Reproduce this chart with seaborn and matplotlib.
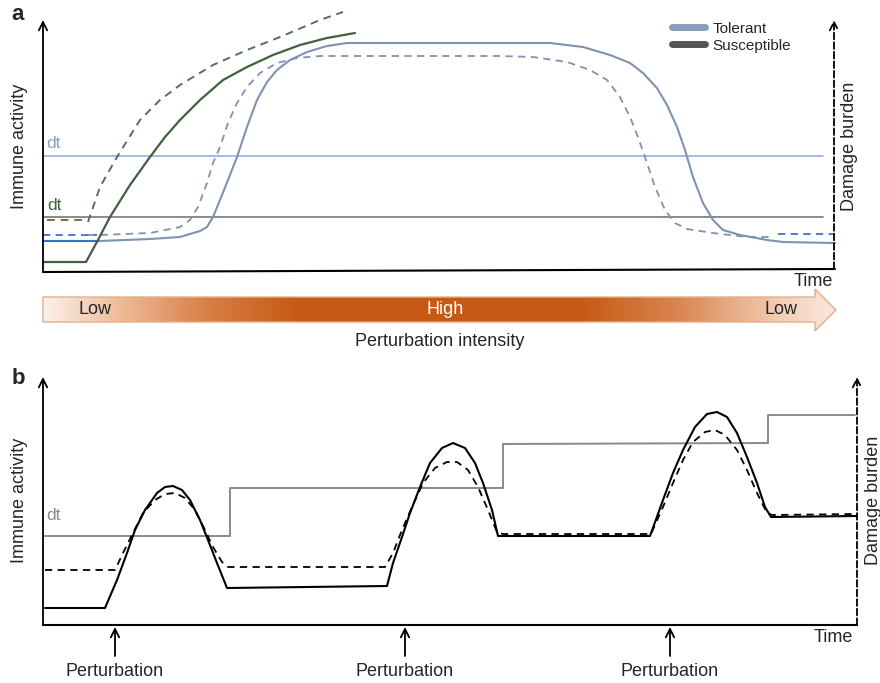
import numpy as np
import matplotlib
matplotlib.use('Agg')
import matplotlib.pyplot as plt
from matplotlib.colors import LinearSegmentedColormap
from matplotlib.lines import Line2D
from matplotlib.patches import Polygon
import seaborn as sns

# ---- panel a data (time, activity), pixel units ----
sus_solid_x = [43, 86, 98, 110, 130, 150, 165, 180, 200, 223, 247, 273, 300, 327, 355]
sus_solid_y = [262, 262, 240, 217, 185, 157, 137, 120, 100, 80, 67, 55, 45, 38, 33]
sus_dash_base_x = [47, 83]
sus_dash_base_y = [220, 220]
sus_dash_x = [88, 100, 117, 140, 160, 180, 213, 247, 280, 320, 343]
sus_dash_y = [222, 187, 157, 120, 100, 85, 65, 50, 37, 20, 12]

tol_solid_x = [43, 100, 150, 180, 200, 207, 213, 220, 228, 237, 247, 257, 267, 277, 290,
               307, 327, 347, 360, 500, 550, 583, 610, 630, 643, 657, 667, 677, 685,
               693, 703, 713, 723, 740, 767, 783, 835]
tol_solid_y = [241, 241, 239, 237, 231, 227, 217, 200, 180, 157, 127, 100, 82, 70, 60,
               52, 46, 43, 43, 43, 43, 47, 55, 63, 73, 88, 105, 127, 150,
               177, 203, 220, 230, 235, 240, 242, 243]
tol_solid_lead_x = [43, 97]
tol_solid_lead_y = [241, 241]
tol_dash_x = [88, 100, 150, 180, 190, 198, 207, 213, 220, 228, 237, 247, 260, 277, 297,
              320, 380, 500, 533, 567, 590, 607, 620, 630, 638, 647, 655, 665, 675,
              687, 713, 747, 773]
tol_dash_y = [235, 235, 233, 227, 220, 207, 183, 163, 147, 123, 103, 87, 73, 63, 58,
              56, 56, 56, 57, 62, 70, 80, 97, 117, 137, 163, 187, 210, 223,
              229, 233, 237, 237]
tol_dash_lead_x = [43, 97]
tol_dash_lead_y = [235, 235]
tol_dash_tail_x = [778, 835]
tol_dash_tail_y = [234, 234]

dt_tol_x, dt_tol_y = [44, 823], [156, 156]
dt_sus_x, dt_sus_y = [44, 823], [217, 217]

intensity_labels = ['Low', 'High', 'Low']
legend_labels = ['Tolerant', 'Susceptible']

# ---- panel b data ----
b_solid_x = [45, 105, 117, 127, 135, 145, 157, 165, 173, 182, 190, 200, 208, 217, 227,
             387, 393, 402, 410, 420, 430, 442, 453, 465, 475, 483, 492, 498,
             503, 650, 663, 673, 683, 695, 707, 717, 727, 737, 747, 757, 765, 771, 857]
b_solid_y = [608, 608, 580, 553, 530, 510, 493, 487, 486, 490, 500, 520, 540, 563, 588,
             586, 563, 537, 513, 487, 463, 448, 443, 448, 463, 483, 510, 536,
             536, 536, 500, 473, 450, 427, 414, 412, 417, 433, 457, 483, 507, 517, 516]
b_dash_x = [45, 115, 123, 133, 143, 155, 165, 175, 185, 195, 205, 213, 222, 228,
            385, 393, 402, 412, 423, 435, 447, 457, 468, 478, 488, 497,
            503, 651, 663, 673, 683, 693, 705, 715, 725, 737, 747, 757, 767, 772, 857]
b_dash_y = [570, 570, 553, 533, 513, 500, 494, 493, 498, 510, 530, 547, 562, 567,
            567, 553, 530, 507, 483, 468, 462, 462, 470, 487, 510, 532,
            534, 534, 507, 483, 460, 442, 432, 430, 435, 450, 470, 493, 513, 515, 514]
b_dt_x = [45, 230, 230, 503, 503, 768, 768, 855]
b_dt_y = [536, 536, 488, 488, 444, 443, 415, 415]
perturbation_x = [115, 405, 670]

sns.set_theme(style='white')
plt.rcParams['font.family'] = ['Liberation Sans', 'DejaVu Sans']

fig = plt.figure(figsize=(8.8, 6.83), dpi=100)
ax = fig.add_axes([0, 0, 1, 1])

GREEN = '#41603f'
GREEN_D = '#55705a'
TOL = '#7f92b3'
BLUE = '#3f6fcc'


def draw(x, y, color, lw=1.4, ls='-'):
    sns.lineplot(x=x, y=y, ax=ax, sort=False, estimator=None, color=color,
                 linewidth=lw, linestyle=ls)


def arrow(x0, y0, x1, y1, ls='-'):
    ax.annotate('', xy=(x1, y1), xytext=(x0, y0),
                arrowprops=dict(arrowstyle='->', color='black', lw=1.3, linestyle=ls,
                                mutation_scale=15, shrinkA=0, shrinkB=0))


dash = (0, (4, 3))

# panel a
draw(dt_tol_x, dt_tol_y, '#8fb1e6', 1.2)
draw(dt_sus_x, dt_sus_y, '#777777', 1.2)
draw(tol_solid_x, tol_solid_y, TOL, 1.5)
draw(tol_solid_lead_x, tol_solid_lead_y, BLUE, 1.5)
draw(tol_dash_x, tol_dash_y, TOL, 1.3, dash)
draw(tol_dash_lead_x, tol_dash_lead_y, BLUE, 1.3, dash)
draw(tol_dash_tail_x, tol_dash_tail_y, BLUE, 1.3, dash)
draw(sus_solid_x, sus_solid_y, GREEN, 1.6)
draw(sus_dash_base_x, sus_dash_base_y, '#6b7a3a', 1.4, dash)
draw(sus_dash_x, sus_dash_y, GREEN_D, 1.4, dash)

ax.plot([43, 835], [272, 269], color='black', lw=1.5)
arrow(43, 272, 43, 20)
arrow(834, 269, 834, 20, ls='--')

ax.text(46, 143, 'dt', color='#8a9fc0', fontsize=12.5, va='center')
ax.text(47, 206, 'dt', color=GREEN, fontsize=12.5, va='center')
ax.text(18, 14, 'a', fontsize=16, fontweight='bold', va='center', ha='center')
ax.text(20, 146, 'Immune activity', rotation=90, fontsize=13, va='center', ha='center')
ax.text(850, 146, 'Damage burden', rotation=90, fontsize=13, va='center', ha='center')
ax.text(813, 281, 'Time', fontsize=13, va='center', ha='center')

handles = [Line2D([0], [0], color='#8a9dbd', lw=5), Line2D([0], [0], color='#555555', lw=5)]
ax.legend(handles, legend_labels, loc='upper left', bbox_to_anchor=(664 / 880, 1 - 14 / 683),
          frameon=False, fontsize=11, handlelength=2.2, handletextpad=0.45,
          borderpad=0, labelspacing=0.2)

# intensity arrow with gradient
cmap = LinearSegmentedColormap.from_list('pert', [
    (0, '#fcf1ea'), (0.08, '#f0c4a5'), (0.2, '#d9824a'), (0.32, '#c65a14'),
    (0.68, '#c65a14'), (0.8, '#d9844e'), (0.93, '#f2cdb4'), (1, '#fbe8dc')])
grad = np.linspace(0, 1, 256).reshape(1, -1)
im = ax.imshow(grad, extent=(43, 836, 331, 289), cmap=cmap, aspect='auto', zorder=1)
poly = Polygon([(43, 297), (815, 297), (815, 289), (836, 310), (815, 331), (815, 322), (43, 322)],
               closed=True, fc='none', ec='#e0b08e', lw=1, zorder=2)
ax.add_patch(poly)
im.set_clip_path(poly)
ax.text(95, 310, intensity_labels[0], fontsize=13, va='center', ha='center')
ax.text(445, 310, intensity_labels[1], fontsize=13, va='center', ha='center', color='white')
ax.text(781, 310, intensity_labels[2], fontsize=13, va='center', ha='center')
ax.text(440, 341, 'Perturbation intensity', fontsize=13, va='center', ha='center')

# panel b
draw(b_dt_x, b_dt_y, '#8a8a8a', 1.4)
draw(b_solid_x, b_solid_y, 'black', 1.5)
draw(b_dash_x, b_dash_y, 'black', 1.3, dash)

ax.plot([43, 857], [625, 625], color='black', lw=1.5)
arrow(43, 625, 43, 377)
arrow(857, 625, 857, 377, ls='--')
for px in perturbation_x:
    arrow(px, 656, px, 627)
    ax.text(px, 672, 'Perturbation', fontsize=13, va='center', ha='center')

ax.text(53, 516, 'dt', color='#8a8a8a', fontsize=12.5, va='center', ha='center')
ax.text(18, 378, 'b', fontsize=16, fontweight='bold', va='center', ha='center')
ax.text(20, 500, 'Immune activity', rotation=90, fontsize=13, va='center', ha='center')
ax.text(873, 500, 'Damage burden', rotation=90, fontsize=13, va='center', ha='center')
ax.text(833, 638, 'Time', fontsize=13, va='center', ha='center')

ax.set_xlim(0, 880)
ax.set_ylim(683, 0)
ax.axis('off')

fig.savefig('out.png', dpi=100)
